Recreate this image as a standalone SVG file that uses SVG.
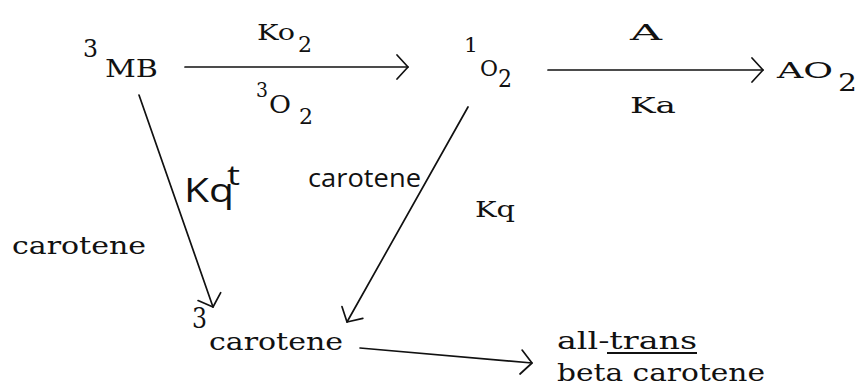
<svg xmlns="http://www.w3.org/2000/svg" width="861" height="389" viewBox="0 0 861 389">
<style>
.s{font-family:"DejaVu Serif","Liberation Serif",serif;fill:#111;}
.h{font-family:"Open Sans","DejaVu Sans",sans-serif;font-weight:400;fill:#111;}
.c{fill:none;stroke:#111;stroke-width:1.7;stroke-linecap:round;}
</style>
<defs>
<marker id="ah" markerUnits="userSpaceOnUse" viewBox="-16 -16 20 32" markerWidth="20" markerHeight="32" refX="0" refY="0" orient="auto" overflow="visible">
<path d="M-11,-12 L0,0 L-11,12" fill="none" stroke="#111" stroke-width="1.7" stroke-linecap="round" stroke-linejoin="round"/>
</marker>
</defs>
<rect width="861" height="389" fill="#fff"/>
<g id="connectors">
<path class="c" d="M185,67 L408,67" marker-end="url(#ah)"/>
<path class="c" d="M548,70 L763,70" marker-end="url(#ah)"/>
<path class="c" d="M139,95 L213,307" marker-end="url(#ah)"/>
<path class="c" d="M468,107 L347,322" marker-end="url(#ah)"/>
<path class="c" d="M360,348 L532,363" marker-end="url(#ah)"/>
</g>
<g id="node-3MB">
<text class="s" x="83" y="57" font-size="25" textLength="15" lengthAdjust="spacingAndGlyphs">3</text>
<text class="s" x="105" y="77" font-size="24" textLength="53" lengthAdjust="spacingAndGlyphs">MB</text>
</g>
<g id="node-1O2">
<text class="s" x="464" y="52" font-size="21" textLength="14" lengthAdjust="spacingAndGlyphs">1</text>
<text class="s" x="480" y="76" font-size="23" textLength="18" lengthAdjust="spacingAndGlyphs">O</text>
<text class="s" x="498" y="87" font-size="25" textLength="14" lengthAdjust="spacingAndGlyphs">2</text>
</g>
<g id="node-AO2">
<text class="s" x="777" y="78" font-size="23" textLength="56" lengthAdjust="spacingAndGlyphs">AO</text>
<text class="s" x="838" y="91" font-size="25" textLength="19" lengthAdjust="spacingAndGlyphs">2</text>
</g>
<g id="node-3carotene">
<text class="s" x="192" y="328" font-size="27" textLength="15" lengthAdjust="spacingAndGlyphs">3</text>
<text class="s" x="209" y="350" font-size="25" textLength="134" lengthAdjust="spacingAndGlyphs">carotene</text>
</g>
<g id="node-alltrans">
<text class="s" x="557" y="349" font-size="24" textLength="140" lengthAdjust="spacingAndGlyphs">all-trans</text>
<line x1="607" y1="353" x2="697" y2="353" stroke="#111" stroke-width="2"/>
<text class="s" x="557" y="381" font-size="24" textLength="208" lengthAdjust="spacingAndGlyphs">beta carotene</text>
</g>
<g id="labels">
<text class="s" x="257" y="40" font-size="22" textLength="38" lengthAdjust="spacingAndGlyphs">Ko</text>
<text class="s" x="298" y="52" font-size="22" textLength="14" lengthAdjust="spacingAndGlyphs">2</text>
<text class="s" x="256" y="97" font-size="20" textLength="12" lengthAdjust="spacingAndGlyphs">3</text>
<text class="s" x="269" y="113" font-size="24" textLength="22" lengthAdjust="spacingAndGlyphs">O</text>
<text class="s" x="299" y="124" font-size="22" textLength="14" lengthAdjust="spacingAndGlyphs">2</text>
<text class="s" x="630" y="40" font-size="22" textLength="32" lengthAdjust="spacingAndGlyphs">A</text>
<text class="s" x="630" y="113" font-size="23" textLength="46" lengthAdjust="spacingAndGlyphs">Ka</text>
<text class="h" x="184" y="202" font-size="32" textLength="50" lengthAdjust="spacingAndGlyphs">Kq</text>
<text class="h" x="227" y="185" font-size="27" textLength="13" lengthAdjust="spacingAndGlyphs">t</text>
<text class="h" x="308" y="187" font-size="26" textLength="113" lengthAdjust="spacingAndGlyphs">carotene</text>
<text class="s" x="475" y="217" font-size="22" textLength="40" lengthAdjust="spacingAndGlyphs">Kq</text>
<text class="s" x="12" y="254" font-size="25" textLength="134" lengthAdjust="spacingAndGlyphs">carotene</text>
</g>
</svg>
